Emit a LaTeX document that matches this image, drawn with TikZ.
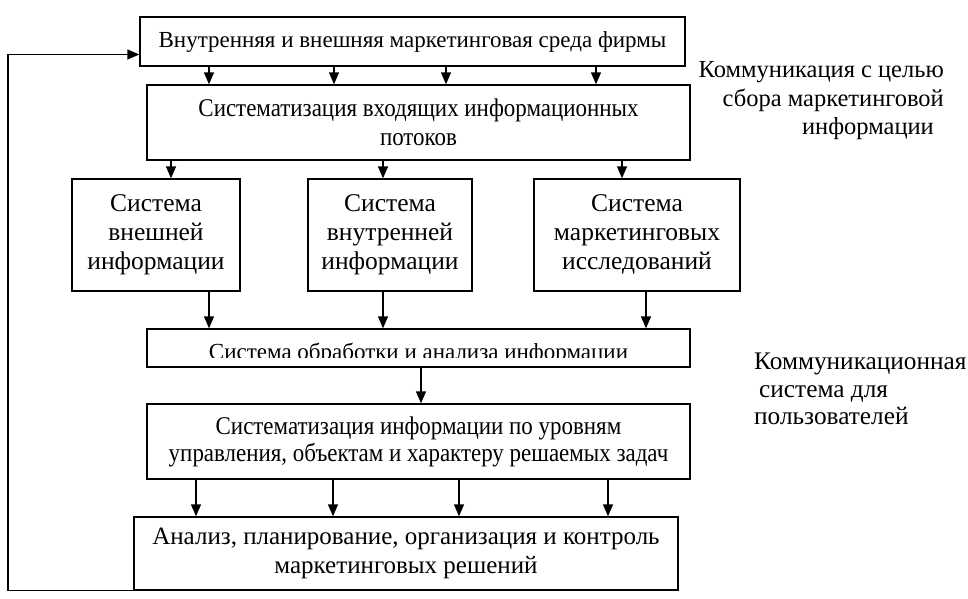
\documentclass[tikz,border=0pt]{standalone}
\usepackage{fontspec}
\setmainfont{Liberation Serif}
\newfontfamily\narrowserif[FakeStretch=0.9]{Liberation Serif}
\usetikzlibrary{arrows.meta}
\begin{document}
\begin{tikzpicture}[x=1pt,y=-1pt,
  box/.style={draw,line width=1.4pt,inner sep=0pt,align=center,
    font=\fontsize{23}{28}\selectfont},
  narrowbox/.style={box,font=\narrowserif\fontsize{25.5}{28.5}\selectfont},
  bigbox/.style={box,font=\fontsize{25.5}{29}\selectfont},
  arr/.style={line width=1.4pt,-{Triangle[width=10pt,length=12pt]}},
  note/.style={inner sep=0pt,font=\fontsize{23}{28}\selectfont}]
\useasboundingbox (0,0) rectangle (968,598);
\fill[white] (0,0) rectangle (968,598);

\node[box,minimum width=545,minimum height=49] (b1) at (412.5,41.5)
  {Внутренняя и внешняя маркетинговая среда фирмы};
\node[narrowbox,minimum width=543,minimum height=75] (b2) at (418.5,122.5)
  {Систематизация входящих информационных\\потоков};
\node[bigbox,minimum width=168,minimum height=112] (b3a) at (156,235)
  {Система\\внешней\\информации};
\node[bigbox,minimum width=164,minimum height=112] (b3b) at (390,235)
  {Система\\внутренней\\информации};
\node[bigbox,minimum width=206,minimum height=112] (b3c) at (637,235)
  {Система\\маркетинговых\\исследований};
\node[box,minimum width=543,minimum height=38] (b4) at (418.5,348) {};
\begin{scope}
  \clip (b4.north west) rectangle ([yshift=10pt]b4.south east);
  \node[note,anchor=base] (t4) at (418.5,359)
    {Система обработки и анализа информации};
\end{scope}
\node[narrowbox,minimum width=543,minimum height=75,font=\narrowserif\fontsize{25.5}{27}\selectfont] (b5) at (418.5,441.5)
  {Систематизация информации по уровням\\управления, объектам и характеру решаемых задач};
\node[box,minimum width=544,minimum height=73,font=\fontsize{25}{29}\selectfont] (b6) at (406,553.5)
  {Анализ, планирование, организация и контроль\\маркетинговых решений};

\node[note,align=right,anchor=east,font=\fontsize{24.5}{28.5}\selectfont] (n1) at (944,101)
  {Коммуникация с целью\\сбора маркетинговой\hspace*{3pt}\\информации\hspace*{10pt}};
\node[note,align=left,anchor=west,font=\fontsize{25.3}{27.5}\selectfont] (n2) at (754,389)
  {Коммуникационная\\\hspace*{5pt}система для\\пользователей};

\foreach \x in {209,334,446,596}
  \draw[arr] (b1.south -| \x,0) -- (b2.north -| \x,0);
\draw[arr] (b2.south -| 171,0) -- (b3a.north -| 171,0);
\draw[arr] (b2.south -| 383,0) -- (b3b.north -| 383,0);
\draw[arr] (b2.south -| 622,0) -- (b3c.north -| 622,0);
\draw[arr] (b3a.south -| 209,0) -- (b4.north -| 209,0);
\draw[arr] (b3b.south -| 383,0) -- (b4.north -| 383,0);
\draw[arr] (b3c.south -| 646,0) -- (b4.north -| 646,0);
\draw[arr] (b4.south -| 421,0) -- (b5.north -| 421,0);
\foreach \x in {196,333,459,608}
  \draw[arr] (b5.south -| \x,0) -- (b6.north -| \x,0);

\coordinate (fbl) at (8,0);
\draw[arr] (b6.south west) -- (b6.south west -| fbl) |- ([yshift=-13pt]b1.west);
\end{tikzpicture}
\end{document}
